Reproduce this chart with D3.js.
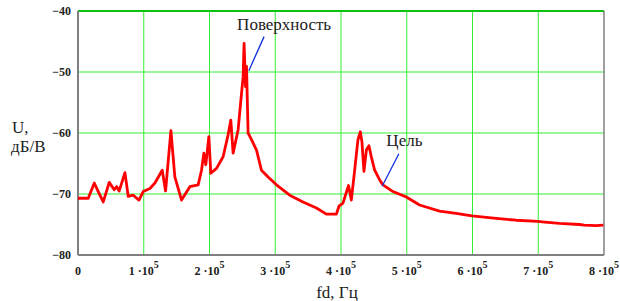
<!DOCTYPE html>
<html>
<head>
<meta charset="utf-8">
<script src="https://cdn.jsdelivr.net/npm/d3@7"></script>
<style>
  body { margin: 0; background: #fff; }
  svg { display: block; }
  svg text { font-family: "Liberation Serif", "DejaVu Serif", serif; fill: #222; }
</style>
</head>
<body>
<div id="chart"></div>
<script>
// частота в единицах 1e5 Гц
const freq = [0, 0.156, 0.248, 0.308, 0.384, 0.475, 0.551, 0.588, 0.627, 0.714,
  0.764, 0.840, 0.927, 0.992, 1.094, 1.170, 1.281, 1.332, 1.413, 1.473,
  1.575, 1.701, 1.827, 1.879, 1.914, 1.944, 1.990, 2.020, 2.107, 2.207,
  2.283, 2.324, 2.359, 2.435, 2.487, 2.511, 2.526, 2.548, 2.563, 2.587,
  2.639, 2.715, 2.790, 2.891, 3.018, 3.220, 3.422, 3.626, 3.778, 3.930,
  3.969, 4.030, 4.115, 4.157, 4.208, 4.258, 4.294, 4.319, 4.349, 4.386,
  4.425, 4.461, 4.512, 4.588, 4.638, 4.790, 4.993, 5.195, 5.499, 5.777,
  5.990, 6.360, 6.664, 6.992, 7.100, 7.322, 7.626, 7.700, 7.879, 7.990];
// уровень сигнала, дБ/В
const level = [-70.7, -70.7, -68.2, -69.6, -71.3, -68.1, -69.3, -68.8, -69.5, -66.5,
  -70.4, -70.2, -71.0, -69.6, -69.1, -68.2, -66.1, -69.5, -59.6, -67.2,
  -71.0, -68.8, -68.5, -66.1, -63.3, -65.2, -60.6, -66.6, -65.8, -63.9,
  -60.3, -57.9, -63.3, -59.5, -53.5, -50.8, -45.3, -52.4, -49.1, -60.0,
  -61.1, -62.8, -66.1, -67.2, -68.5, -70.2, -71.3, -72.3, -73.3, -73.3,
  -72.0, -71.5, -68.6, -71.0, -66.1, -61.1, -59.8, -61.5, -66.3, -62.8,
  -62.1, -63.9, -66.1, -67.7, -68.5, -69.6, -70.5, -71.8, -72.8, -73.2,
  -73.6, -74.0, -74.3, -74.5, -74.6, -74.8, -75.0, -75.1, -75.2, -75.1];

const xTicks = [0, 1, 2, 3, 4, 5, 6, 7, 8];
const yTicks = [-40, -50, -60, -70, -80];

// подписи: текст, точка на кривой, начало линии, позиция текста
const noteText = ["Поверхность", "Цель"];
const notePoint = [[2.598, -49.8], [4.628, -68.7]];
const noteLineTop = [[2.83, -44.2], [4.88, -63.4]];
const noteTextPos = [[2.42, -43.1], [4.69, -62.1]];

const W = 620, H = 301;
const margin = {left: 78, right: 16, top: 11, bottom: 46};

const svg = d3.select("#chart").append("svg")
    .attr("width", W).attr("height", H);

const x = d3.scaleLinear().domain([0, 8]).range([margin.left, W - margin.right]);
const y = d3.scaleLinear().domain([-80, -40]).range([H - margin.bottom, margin.top]);

// сетка
svg.append("g").selectAll("line")
    .data(xTicks.filter(d => d > 0 && d < 8))
    .enter().append("line")
    .attr("x1", d => x(d)).attr("x2", d => x(d))
    .attr("y1", y(-40)).attr("y2", y(-80))
    .attr("stroke", "#33ee33").attr("stroke-width", 1);
svg.append("g").selectAll("line")
    .data(yTicks.filter(d => d > -80 && d < -40))
    .enter().append("line")
    .attr("x1", x(0)).attr("x2", x(8))
    .attr("y1", d => y(d)).attr("y2", d => y(d))
    .attr("stroke", "#33ee33").attr("stroke-width", 1);

// рамка
svg.append("line").attr("x1", x(0)).attr("x2", x(8)).attr("y1", y(-40)).attr("y2", y(-40))
    .attr("stroke", "#10c010").attr("stroke-width", 2);
svg.append("line").attr("x1", x(8)).attr("x2", x(8)).attr("y1", y(-40)).attr("y2", y(-80))
    .attr("stroke", "#808080").attr("stroke-width", 1.5);
svg.append("line").attr("x1", x(0)).attr("x2", x(8)).attr("y1", y(-80)).attr("y2", y(-80))
    .attr("stroke", "#808080").attr("stroke-width", 2);
svg.append("line").attr("x1", x(0)).attr("x2", x(0)).attr("y1", y(-40)).attr("y2", y(-80))
    .attr("stroke", "#808080").attr("stroke-width", 2);

// кривая
const data = freq.map((f, i) => ({f: f, v: level[i]}));
svg.append("path")
    .datum(data)
    .attr("fill", "none")
    .attr("stroke", "#ff0000")
    .attr("stroke-width", 2.8)
    .attr("stroke-linejoin", "round")
    .attr("d", d3.line().x(d => x(d.f)).y(d => y(d.v)));

// подписи оси Y
svg.append("g").selectAll("text")
    .data(yTicks)
    .enter().append("text")
    .style("font-size", "12px").style("font-weight", "bold")
    .attr("x", x(0) - 7)
    .attr("y", d => y(d) + 4)
    .attr("text-anchor", "end")
    .text(d => "\u2212" + Math.abs(d));

// подписи оси X
const xl = svg.append("g").selectAll("text")
    .data(xTicks)
    .enter().append("text")
    .style("font-size", "12px").style("font-weight", "bold")
    .attr("x", d => x(d))
    .attr("y", 275)
    .attr("text-anchor", "middle");
xl.append("tspan").text(d => d === 0 ? "0" : d + " \u00b710");
xl.filter(d => d !== 0).append("tspan")
    .attr("dy", -7).style("font-size", "10px").text("5");

// названия осей
const title = (t, px, py, anchor) => svg.append("text")
    .style("font-size", "17px")
    .attr("x", px).attr("y", py).attr("text-anchor", anchor).text(t);
title("fd, Гц", 337, 298, "middle");
title("U,", 12, 133, "start");
title("дБ/В", 11, 152, "start");

// аннотации
noteText.forEach((t, i) => {
  svg.append("line")
      .attr("x1", x(noteLineTop[i][0])).attr("y1", y(noteLineTop[i][1]))
      .attr("x2", x(notePoint[i][0])).attr("y2", y(notePoint[i][1]))
      .attr("stroke", "#1030e0").attr("stroke-width", 1.3);
  svg.append("text")
      .style("font-size", "17px")
      .attr("x", x(noteTextPos[i][0])).attr("y", y(noteTextPos[i][1]))
      .text(t);
});
</script>
</body>
</html>
